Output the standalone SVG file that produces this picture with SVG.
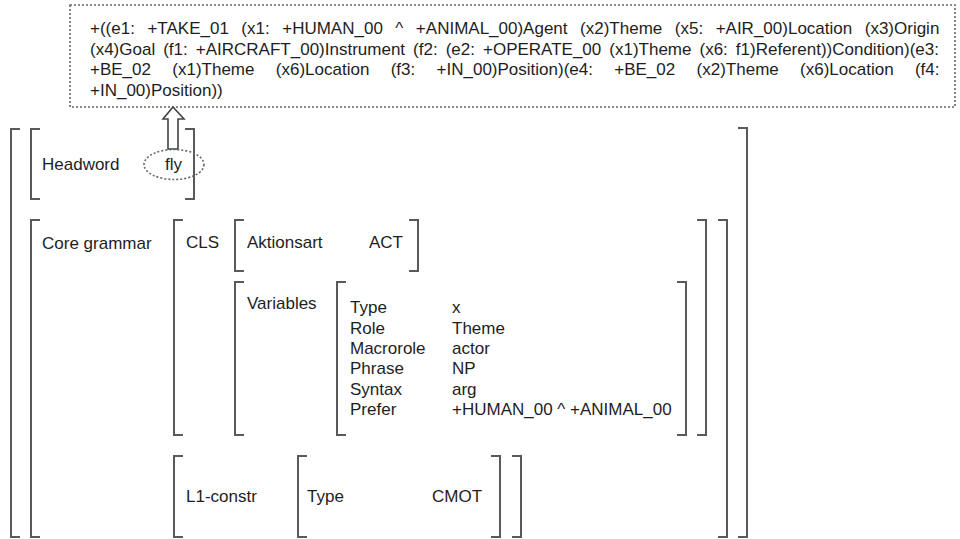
<svg xmlns="http://www.w3.org/2000/svg" width="960" height="539" viewBox="0 0 960 539">
<style>
text{font-family:"Liberation Sans",Arial,sans-serif;font-size:17px;fill:#1e1e1e}
.bk{fill:none;stroke:#5a5a5a;stroke-width:2}
.dot{fill:none;stroke:#666;stroke-width:1.6;stroke-dasharray:2 2}
</style>
<rect width="960" height="539" fill="#fff"/>
<g id="meaning">
<rect class="dot" x="70" y="5" width="885" height="102"/>
<text x="90" y="34" word-spacing="7.8">+((e1: +TAKE_01 (x1: +HUMAN_00 ^ +ANIMAL_00)Agent (x2)Theme (x5: +AIR_00)Location (x3)Origin</text>
<text x="90" y="54.5" word-spacing="3.3">(x4)Goal (f1: +AIRCRAFT_00)Instrument (f2: (e2: +OPERATE_00 (x1)Theme (x6: f1)Referent))Condition)(e3:</text>
<text x="90" y="75" word-spacing="16.6">+BE_02 (x1)Theme (x6)Location (f3: +IN_00)Position)(e4: +BE_02 (x2)Theme (x6)Location (f4:</text>
<text x="90" y="95.5">+IN_00)Position))</text>
</g>
<g id="connectors">
<polygon points="173,107 184,119 178,119 178,149 168,149 168,119 163,119" fill="#fff" stroke="#444" stroke-width="1.6" stroke-linejoin="miter"/>
</g>
<g id="brackets">
<path class="bk" d="M20,129H11V537H20"/>
<path class="bk" d="M738,128H747V537H738"/>
</g>
<g id="headword">
<path class="bk" d="M40,129H31V199H40"/>
<path class="bk" d="M185,129H194V199H185"/>
<text x="42" y="170">Headword</text>
<ellipse class="dot" cx="174" cy="164.5" rx="30" ry="15"/>
<text x="165" y="170">fly</text>
</g>
<g id="core-grammar">
<path class="bk" d="M40,220H31V537H40"/>
<path class="bk" d="M718,220H727V537H718"/>
<text x="42" y="249">Core grammar</text>
</g>
<g id="cls">
<path class="bk" d="M183,220H174V435H183"/>
<path class="bk" d="M697,220H706V435H697"/>
<text x="186" y="248">CLS</text>
</g>
<g id="aktionsart">
<path class="bk" d="M244,220H235V271H244"/>
<path class="bk" d="M409,220H418V271H409"/>
<text x="247" y="248">Aktionsart</text>
<text x="369" y="248">ACT</text>
</g>
<g id="variables">
<path class="bk" d="M244,282H235V435H244"/>
<text x="247" y="309">Variables</text>
<path class="bk" d="M346,282H337V435H346"/>
<path class="bk" d="M677,282H686V435H677"/>
<text x="350" y="313">Type</text>
<text x="350" y="333.5">Role</text>
<text x="350" y="354">Macrorole</text>
<text x="350" y="374">Phrase</text>
<text x="350" y="394.5">Syntax</text>
<text x="350" y="415">Prefer</text>
<text x="452" y="313">x</text>
<text x="452" y="333.5">Theme</text>
<text x="452" y="354">actor</text>
<text x="452" y="374">NP</text>
<text x="452" y="394.5">arg</text>
<text x="452" y="415">+HUMAN_00 ^ +ANIMAL_00</text>
</g>
<g id="l1-constr">
<path class="bk" d="M183,456H174V537H183"/>
<path class="bk" d="M512,456H521V537H512"/>
<text x="186" y="502">L1-constr</text>
<path class="bk" d="M307,456H298V537H307"/>
<path class="bk" d="M491,456H500V537H491"/>
<text x="307" y="502">Type</text>
<text x="432" y="502">CMOT</text>
</g>
</svg>
